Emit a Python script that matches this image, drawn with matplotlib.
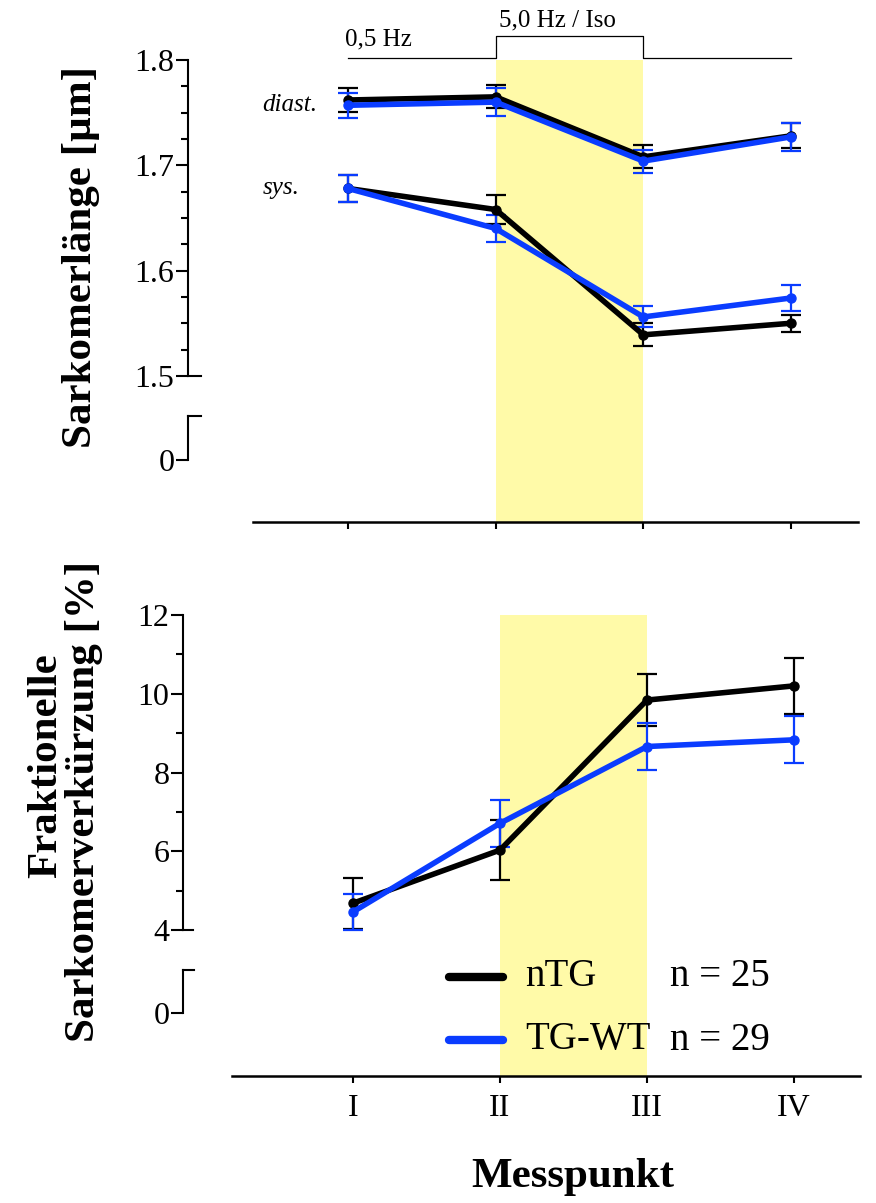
import numpy as np
import matplotlib
matplotlib.use("Agg")
import matplotlib.pyplot as plt
from matplotlib.ticker import FixedLocator

plt.rcParams['font.family'] = ['Liberation Serif', 'DejaVu Serif']

# Messpunkte
messpunkte = [1, 2, 3, 4]
messpunkt_labels = ['I', 'II', 'III', 'IV']

# Sarkomerlänge [µm], Mittelwert und SEM
diast_ntg = [1.762, 1.765, 1.708, 1.728]
diast_ntg_sem = [0.011, 0.011, 0.011, 0.012]
diast_tg = [1.757, 1.760, 1.704, 1.727]
diast_tg_sem = [0.012, 0.013, 0.011, 0.013]
sys_ntg = [1.678, 1.658, 1.539, 1.550]
sys_ntg_sem = [0.013, 0.014, 0.011, 0.008]
sys_tg = [1.678, 1.640, 1.556, 1.574]
sys_tg_sem = [0.013, 0.013, 0.010, 0.012]

# Fraktionelle Sarkomerverkürzung [%]
fs_ntg = [4.68, 6.03, 9.84, 10.20]
fs_ntg_sem = [0.65, 0.76, 0.65, 0.72]
fs_tg = [4.46, 6.71, 8.66, 8.83]
fs_tg_sem = [0.46, 0.60, 0.60, 0.60]

gruppen = ['nTG', 'TG-WT']
n_werte = ['n = 25', 'n = 29']

SCHWARZ = 'black'
BLAU = '#0a3cff'
GELB = '#fffaa8'
W, H = 876, 1203
PT = 72 / 100  # px -> pt


def box(x0, y0, x1, y1):
    return [x0 / W, 1 - y1 / H, (x1 - x0) / W, (y1 - y0) / H]


def kurve(ax, y, err, farbe):
    ax.errorbar(messpunkte, y, yerr=err, color=farbe, lw=4, marker='o', ms=6.5,
                capsize=7, elinewidth=1.6, capthick=1.6, zorder=3)


def achsen_stil(ax, links_px):
    for s in ['top', 'right']:
        ax.spines[s].set_visible(False)
    ax.spines['left'].set_position(('outward', links_px * PT))
    ax.spines['left'].set_linewidth(1.5)
    ax.spines['bottom'].set_linewidth(1.8)
    ax.set_facecolor('none')
    ax.tick_params(axis='y', which='major', length=12 * PT, width=1.5,
                   labelsize=23, pad=1)
    ax.tick_params(axis='y', which='minor', length=7 * PT, width=1.5)
    ax.tick_params(axis='x', length=7 * PT, width=1.5, labelsize=23, pad=8)
    ax.set_xticks(messpunkte)


def stummel(rect):
    # kurzer Achsenabschnitt mit "0" unterhalb des Achsenbruchs
    a = fig.add_axes(rect)
    a.set_xlim(0, 1)
    a.set_ylim(0, 1)
    a.set_facecolor('none')
    for s in ['right', 'bottom']:
        a.spines[s].set_visible(False)
    a.spines['left'].set_linewidth(1.5)
    a.spines['top'].set_linewidth(1.5)
    a.set_xticks([])
    a.set_yticks([0])
    a.set_yticklabels(['0'])
    a.tick_params(axis='y', length=12 * PT, width=1.5, labelsize=23, pad=1)
    return a


fig = plt.figure(figsize=(W / 100, H / 100), dpi=100)

# ---------- oberes Panel: Sarkomerlänge ----------
ax1 = fig.add_axes(box(253, 60, 858, 522))
u1 = (791 - 348) / 3
ax1.set_xlim(1 + (253 - 348) / u1, 1 + (858 - 348) / u1)
ax1.set_ylim(1.8 - 462 / 1053, 1.8)
achsen_stil(ax1, 253 - 188)
ax1.spines['left'].set_bounds(1.5, 1.8)
ax1.yaxis.set_major_locator(FixedLocator([1.5, 1.6, 1.7, 1.8]))
ax1.yaxis.set_minor_locator(FixedLocator([v for v in np.arange(1.5, 1.8001, 0.025)
                                          if abs(v * 10 - round(v * 10)) > 1e-6]))
ax1.set_yticklabels(['1.5', '1.6', '1.7', '1.8'])
ax1.set_xticklabels([])
ax1.axvspan(2, 3, color=GELB, lw=0, zorder=0)
kurve(ax1, diast_ntg, diast_ntg_sem, SCHWARZ)
kurve(ax1, sys_ntg, sys_ntg_sem, SCHWARZ)
kurve(ax1, diast_tg, diast_tg_sem, BLAU)
kurve(ax1, sys_tg, sys_tg_sem, BLAU)
ax1.plot([-65 / 605, -52 / 605], [1.5, 1.5], transform=ax1.get_yaxis_transform(),
         color='black', lw=1.5, clip_on=False)

# Stimulationsprotokoll oben
y_basis = 1.8 + 2 / 1053
y_stufe = 1.8 + 24 / 1053
ax1.plot([1, 2, 2, 3, 3, 4], [y_basis, y_basis, y_stufe, y_stufe, y_basis, y_basis],
         color='black', lw=0.9, clip_on=False)
ax1.text(0.98, y_basis + 8 / 1053, '0,5 Hz', fontsize=18, ha='left', va='bottom')
ax1.text(2.02, y_stufe + 5 / 1053, '5,0 Hz / Iso', fontsize=18, ha='left', va='bottom')
ax1.text(0.42, 1.757, 'diast.', fontsize=18, style='italic', ha='left', va='center')
ax1.text(0.42, 1.678, 'sys.', fontsize=18, style='italic', ha='left', va='center')

stummel(box(188, 416, 201, 460))

fig.text(81 / W, 1 - 257 / H, 'Sarkomerlänge [µm]', rotation=90, ha='center',
         va='center', fontsize=31, fontweight='bold')

# ---------- unteres Panel: Verkürzung ----------
ax2 = fig.add_axes(box(232, 615, 860, 1076))
u2 = (794 - 353) / 3
ax2.set_xlim(1 + (232 - 353) / u2, 1 + (860 - 353) / u2)
ax2.set_ylim(4 - 146 / 39.375, 12)
achsen_stil(ax2, 232 - 183)
ax2.spines['left'].set_bounds(4, 12)
ax2.yaxis.set_major_locator(FixedLocator([4, 6, 8, 10, 12]))
ax2.yaxis.set_minor_locator(FixedLocator([5, 7, 9, 11]))
ax2.set_xticklabels(messpunkt_labels)
ax2.axvspan(2, 3, color=GELB, lw=0, zorder=0)
kurve(ax2, fs_ntg, fs_ntg_sem, SCHWARZ)
kurve(ax2, fs_tg, fs_tg_sem, BLAU)
ax2.plot([-49 / 628, -39 / 628], [4, 4], transform=ax2.get_yaxis_transform(),
         color='black', lw=1.5, clip_on=False)

# Legende
for i, (name, n, farbe) in enumerate(zip(gruppen, n_werte, [SCHWARZ, BLAU])):
    yl = (1076 - (977 + 63 * i)) / 461
    ax2.plot([0.345, 0.432], [yl, yl], transform=ax2.transAxes, color=farbe,
             lw=6, solid_capstyle='round', zorder=4)
    ax2.text(0.467, yl, name, transform=ax2.transAxes, fontsize=28,
             ha='left', va='center')
    ax2.text(0.697, yl, n, transform=ax2.transAxes, fontsize=28,
             ha='left', va='center')

stummel(box(183, 970, 194, 1013))

fig.text(46 / W, 1 - 766 / H, 'Fraktionelle', rotation=90, ha='center',
         va='center', fontsize=31, fontweight='bold')
fig.text(84 / W, 1 - 801 / H, 'Sarkomerverkürzung [%]', rotation=90, ha='center',
         va='center', fontsize=31, fontweight='bold')
fig.text(573 / W, 1 - 1177 / H, 'Messpunkt', ha='center', va='center',
         fontsize=31, fontweight='bold')

fig.savefig('out.png', dpi=100)
